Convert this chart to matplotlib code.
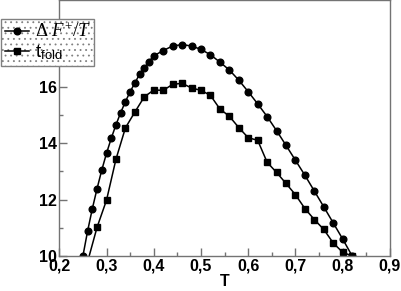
import numpy as np
import matplotlib as mpl
import matplotlib.pyplot as plt

mpl.rcParams['font.family'] = 'Liberation Sans'
mpl.rcParams['mathtext.fontset'] = 'custom'
mpl.rcParams['mathtext.rm'] = 'Liberation Serif'
mpl.rcParams['mathtext.it'] = 'Liberation Serif:italic'
mpl.rcParams['mathtext.sf'] = 'Liberation Sans'
mpl.rcParams['hatch.color'] = '0.55'
mpl.rcParams['hatch.linewidth'] = 0.6

# Delta F+ / T (circles)
T_dF = [0.25, 0.26, 0.27, 0.28, 0.29, 0.30, 0.31, 0.32, 0.33, 0.34, 0.35, 0.36,
        0.37, 0.38, 0.39, 0.40, 0.42, 0.44, 0.46, 0.48, 0.50, 0.52, 0.54, 0.56,
        0.58, 0.60, 0.62, 0.64, 0.66, 0.68, 0.70, 0.72, 0.74, 0.76, 0.78, 0.80,
        0.82]
dF = [10.0, 10.89, 11.68, 12.39, 13.05, 13.64, 14.17, 14.65, 15.08, 15.47, 15.82,
      16.13, 16.44, 16.67, 16.89, 17.09, 17.28, 17.44, 17.49, 17.44, 17.32, 17.13,
      16.87, 16.59, 16.23, 15.82, 15.39, 14.94, 14.44, 13.92, 13.39, 12.86, 12.30,
      11.74, 11.17, 10.60, 10.0]

# t_fold (squares)
T_fold = [0.26, 0.28, 0.30, 0.32, 0.34, 0.36, 0.38, 0.40, 0.42, 0.44, 0.46, 0.48,
          0.50, 0.52, 0.54, 0.56, 0.58, 0.60, 0.62, 0.64, 0.66, 0.68, 0.70, 0.72,
          0.74, 0.76, 0.78, 0.80, 0.82]
tfold = [9.8, 11.02, 11.98, 13.43, 14.54, 15.10, 15.64, 15.88, 15.87, 16.08, 16.12,
         15.95, 15.87, 15.69, 15.21, 14.95, 14.55, 14.19, 14.10, 13.32, 12.96, 12.57,
         12.17, 11.68, 11.29, 10.94, 10.46, 10.13, 10.0]

xticks = [0.2, 0.3, 0.4, 0.5, 0.6, 0.7, 0.8, 0.9]
yticks = [10, 12, 14, 16, 18]

fig = plt.figure(figsize=(4.02, 2.91), dpi=100)
ax = fig.add_axes([0.1475, 0.1203, 0.8225, 0.8797])

ax.plot(T_dF, dF, '-o', color='k', lw=1.1, ms=4.8, label=r'$\Delta\ F^{+}/T$')
ax.plot(T_fold, tfold, '-s', color='k', lw=1.1, ms=4.8, label=r't$_{\mathsf{fold}}$')

ax.set_xlim(0.2, 0.9)
ax.set_ylim(10, 19.07)
ax.set_xticks(xticks)
ax.set_xticklabels([('%.1f' % v).replace('.', ',') for v in xticks])
ax.set_yticks(yticks)
# the 18 label sits under the legend in the original
ax.set_yticklabels([str(v) if v != 18 else '' for v in yticks])
ax.set_xticks(np.arange(0.25, 0.9, 0.1), minor=True)
ax.set_yticks([11, 13, 15, 17], minor=True)

for s in ax.spines.values():
    s.set_color('0.45')
    s.set_linewidth(1.0)
ax.tick_params(which='both', direction='in', color='0.45', width=1.0)
ax.tick_params(which='major', length=6, labelsize=11.5, pad=2)
ax.tick_params(which='minor', length=3)
for lab in ax.get_xticklabels() + ax.get_yticklabels():
    lab.set_fontweight('bold')

ax.set_xlabel('T', fontsize=11.5, fontweight='bold', labelpad=0)

leg = ax.legend(loc='upper left', bbox_to_anchor=(0.0025, 0.935),
                bbox_transform=fig.transFigure, fontsize=13.5,
                fancybox=False, framealpha=1, edgecolor='0.5',
                handlelength=1.3, handletextpad=0.3, borderpad=0.2,
                labelspacing=0.1, borderaxespad=0)
leg.get_frame().set_hatch('...')
leg.get_frame().set_linewidth(1.0)

fig.savefig('out.png', dpi=100)
